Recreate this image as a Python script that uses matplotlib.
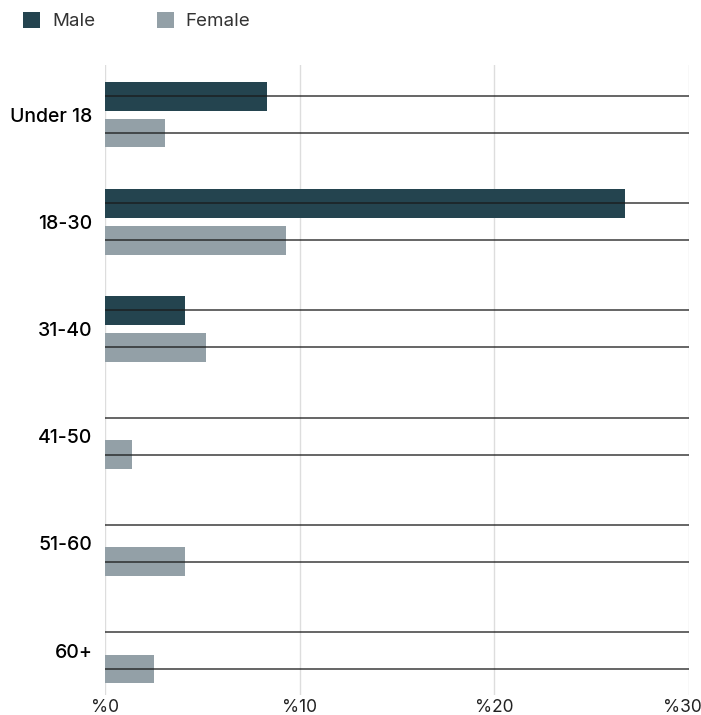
import matplotlib.pyplot as plt
import matplotlib.transforms as mtransforms
import numpy as np

plt.rcParams['font.family'] = ['Inter', 'DejaVu Sans']

categories = ["Under 18", "18-30", "31-40", "41-50", "51-60", "60+"]
male = [8.3, 26.7, 4.1, 0, 0, 0]
female = [3.1, 9.3, 5.2, 1.4, 4.1, 2.5]
x_ticks = [0, 10, 20, 30]
x_tick_labels = ["%0", "%10", "%20", "%30"]

male_color = '#24444f'
female_color = '#93a0a7'

fig = plt.figure(figsize=(7.01, 7.15), dpi=100)
ax = fig.add_axes([105 / 701, 1 - 695 / 715, 584 / 701, 630 / 715])

y = np.arange(len(categories))
off = 0.1725
h = 0.27

ax.barh(y - off, male, height=h, color=male_color, zorder=2, label="Male")
ax.barh(y + off, female, height=h, color=female_color, zorder=2, label="Female")

# thin dark line through every bar slot
ax.hlines(y - off, 0, 30, color='#1a1a1a', linewidth=1.1, alpha=0.85, zorder=3)
ax.hlines(y + off, 0, 30, color='#1a1a1a', linewidth=1.1, alpha=0.85, zorder=3)

ax.set_xlim(0, 30)
ax.set_ylim(5.415, -0.462)
ax.set_xticks(x_ticks)
ax.set_xticklabels(x_tick_labels, fontsize=12.5, color='#222222')
ax.set_yticks(y)
ax.set_yticklabels(categories, fontsize=14, color='#000000', fontweight='medium')
ax.tick_params(axis='both', length=0)
ax.tick_params(axis='x', pad=3)
ax.tick_params(axis='y', pad=9)
ax.grid(axis='x', color='#dddddd', linewidth=1, zorder=0)
ax.set_axisbelow(True)
for s in ax.spines.values():
    s.set_visible(False)

# keep the last tick label inside the figure
last = ax.get_xticklabels()[-1]
last.set_transform(last.get_transform() +
                   mtransforms.ScaledTranslation(-7 / 100, 0, fig.dpi_scale_trans))

fig.legend(loc='upper left', bbox_to_anchor=(23 / 701, 1 - 12 / 715), ncol=2, frameon=False,
           fontsize=13.5, handlelength=0.9, handleheight=0.9, handletextpad=0.64,
           columnspacing=3.3, labelcolor='#333333', borderpad=0, borderaxespad=0)

fig.savefig('out.png', dpi=100)
